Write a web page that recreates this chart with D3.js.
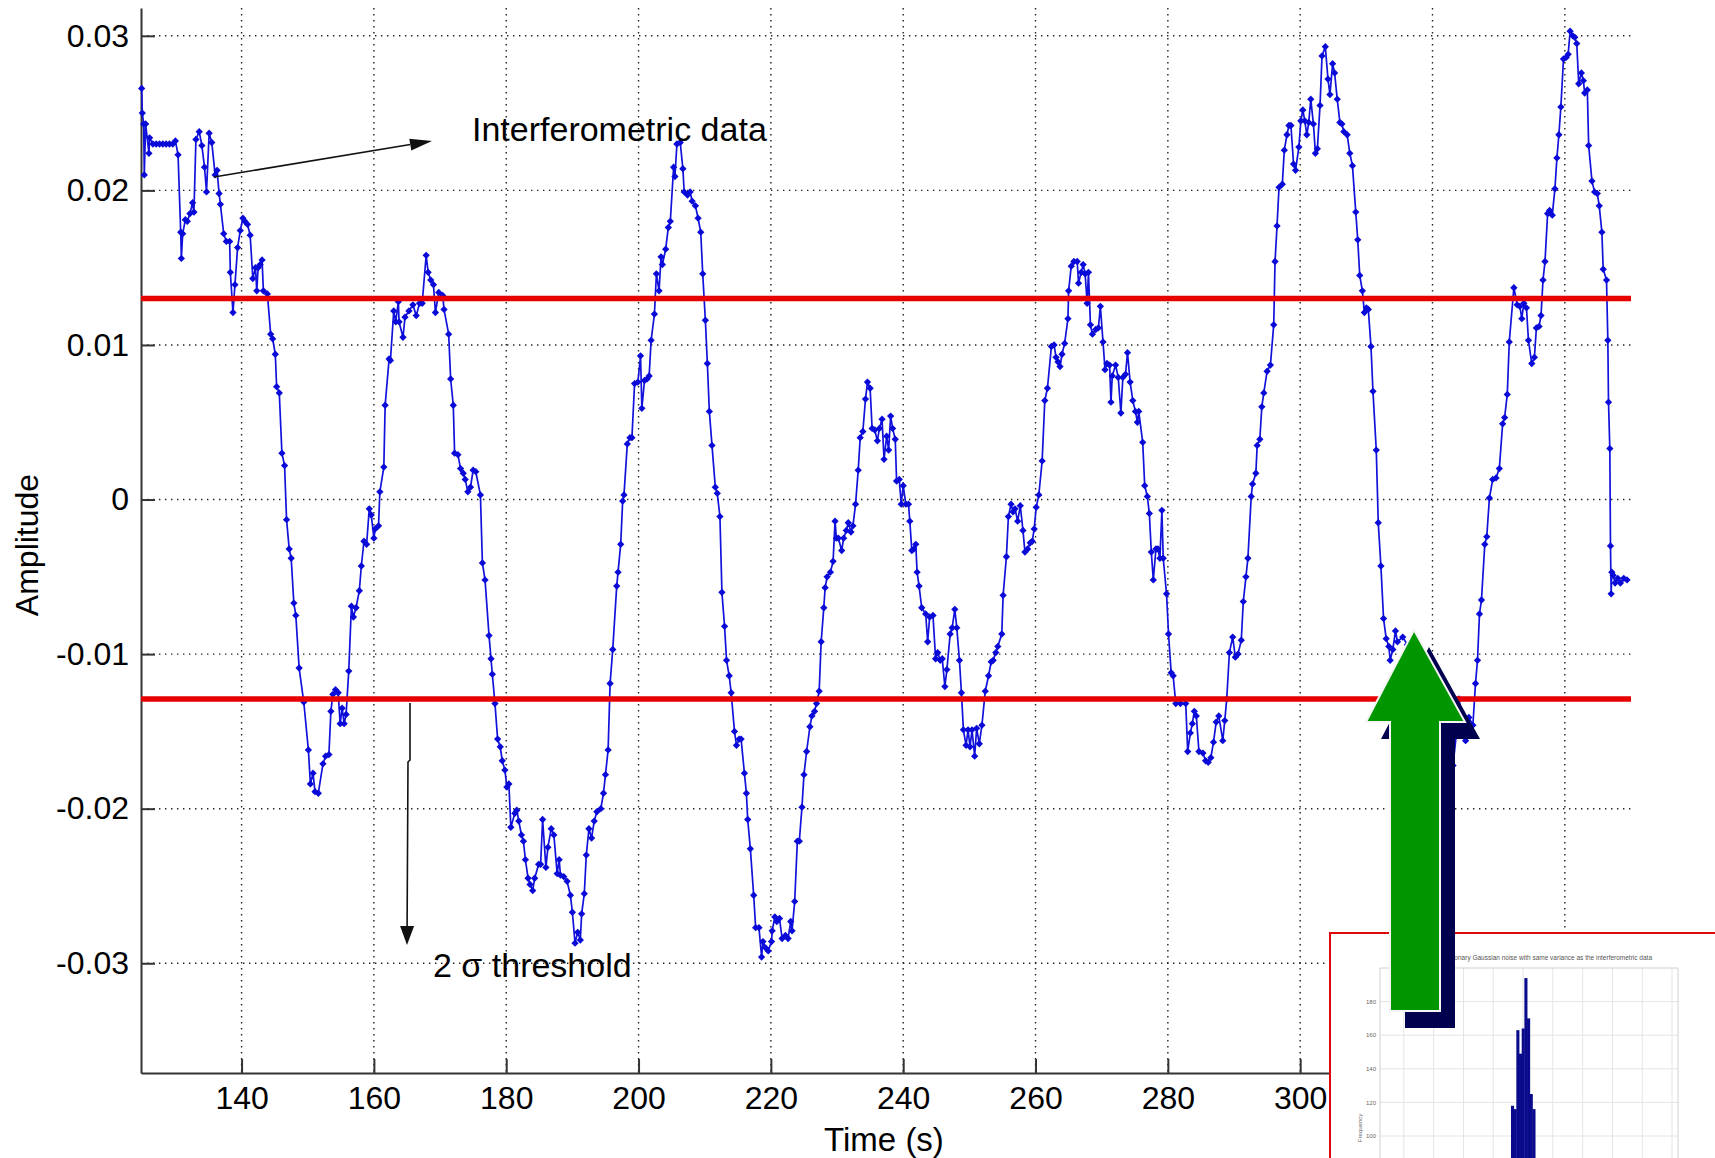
<!DOCTYPE html>
<html>
<head>
<meta charset="utf-8">
<script src="https://cdn.jsdelivr.net/npm/d3@7"></script>
<style>
  body { margin: 0; background: #fff; }
  svg { display: block; font-family: Arial, 'Liberation Sans', sans-serif; }
</style>
</head>
<body>
<svg id="main_chart" width="1715" height="1158"></svg>
<script>
// time (s), amplitude
const interferometric = [
  [124.9,0.0266],[125.0,0.025],[125.2,0.0243],[125.3,0.021],[125.5,0.0243],[126.0,0.0224],[126.1,0.0234],[126.6,0.023],
  [127.1,0.023],[127.6,0.023],[128.1,0.023],[128.6,0.023],[129.1,0.023],[129.6,0.023],[130.0,0.0232],[130.4,0.0223],
  [130.8,0.0173],[130.9,0.0156],[131.1,0.0172],[131.5,0.0181],[131.8,0.018],[132.2,0.0185],[132.6,0.0192],[132.8,0.0186],
  [133.1,0.0233],[133.6,0.0238],[134.0,0.0229],[134.4,0.0215],[134.7,0.0199],[135.1,0.0237],[135.5,0.0231],[136.0,0.021],
  [136.3,0.0213],[136.6,0.0198],[136.8,0.0191],[137.3,0.0172],[137.7,0.0167],[138.2,0.0167],[138.3,0.0147],[138.7,0.0121],
  [139.0,0.0139],[139.4,0.0163],[139.8,0.0174],[140.2,0.0182],[140.5,0.018],[140.9,0.0178],[141.3,0.0171],[141.7,0.0143],
  [142.1,0.015],[142.3,0.0135],[142.5,0.015],[142.8,0.0152],[143.1,0.0155],[143.3,0.0135],[143.9,0.0133],[144.4,0.0107],
  [144.7,0.0104],[145.1,0.0094],[145.3,0.0073],[145.7,0.0069],[146.1,0.003],[146.5,0.0022],[146.8,-0.0013],[147.2,-0.0032],
  [147.5,-0.0038],[147.9,-0.0067],[148.2,-0.0075],[148.7,-0.0109],[149.4,-0.0131],[150.1,-0.0162],[150.4,-0.0184],[150.8,-0.0177],
  [151.1,-0.0189],[151.6,-0.019],[152.3,-0.0171],[152.7,-0.0166],[153.2,-0.0165],[153.5,-0.0137],[153.8,-0.0126],[154.2,-0.0123],
  [154.6,-0.0125],[154.9,-0.0145],[155.2,-0.0135],[155.5,-0.0145],[155.8,-0.0139],[156.2,-0.0111],[156.6,-0.0069],[156.9,-0.0076],
  [157.3,-0.007],[157.8,-0.0059],[158.1,-0.0043],[158.5,-0.0027],[158.9,-0.0029],[159.3,-0.0006],[159.6,-0.001],[160.0,-0.0025],
  [160.2,-0.0019],[160.7,-0.0017],[160.9,0.0005],[161.5,0.0021],[161.7,0.0061],[162.3,0.0091],[162.5,0.009],[163.0,0.0122],
  [163.3,0.0115],[163.7,0.0128],[163.8,0.0115],[164.4,0.0105],[164.7,0.0118],[165.3,0.0122],[165.9,0.0126],[166.4,0.0119],
  [166.9,0.0127],[167.3,0.0127],[167.9,0.0158],[168.2,0.0147],[168.6,0.0142],[169.0,0.0139],[169.3,0.0121],[169.8,0.0134],
  [170.4,0.0132],[170.6,0.0123],[171.3,0.0107],[171.6,0.0078],[172.0,0.0061],[172.2,0.003],[172.7,0.0029],[173.1,0.002],
  [173.5,0.0017],[173.8,0.0013],[174.2,0.0005],[174.6,0.0008],[175.0,0.0019],[175.4,0.0018],[176.1,0.0003],[176.4,-0.0041],
  [176.8,-0.0052],[177.4,-0.0088],[177.7,-0.0103],[177.9,-0.0113],[178.3,-0.0132],[178.7,-0.0155],[179.1,-0.016],[179.4,-0.0169],
  [179.8,-0.0175],[180.1,-0.0186],[180.4,-0.0184],[180.7,-0.0212],[181.3,-0.0203],[181.6,-0.0201],[181.9,-0.0208],[182.3,-0.0217],
  [182.6,-0.0221],[182.9,-0.0233],[183.3,-0.0245],[183.6,-0.0249],[184.0,-0.0253],[184.3,-0.0245],[184.9,-0.0236],[185.2,-0.0236],
  [185.5,-0.0207],[186.0,-0.0238],[186.3,-0.0225],[186.8,-0.0213],[187.2,-0.0217],[187.7,-0.0242],[188.0,-0.0233],[188.2,-0.0243],
  [188.7,-0.0244],[189.2,-0.0247],[189.7,-0.0256],[190.0,-0.0267],[190.4,-0.0287],[190.8,-0.028],[191.2,-0.0285],[191.4,-0.0268],
  [191.8,-0.0255],[192.1,-0.023],[192.5,-0.0213],[192.9,-0.0219],[193.3,-0.0208],[193.7,-0.0202],[194.3,-0.02],[194.7,-0.019],
  [195.0,-0.0178],[195.4,-0.0162],[195.7,-0.0119],[196.1,-0.0097],[196.7,-0.0056],[196.9,-0.0047],[197.3,-0.0029],[197.6,-0.0001],
  [197.8,0.0003],[198.3,0.0036],[198.7,0.004],[199.0,0.004],[199.4,0.0075],[199.9,0.0076],[200.3,0.0093],[200.5,0.0059],
  [200.9,0.0077],[201.3,0.0078],[201.6,0.008],[201.9,0.0103],[202.4,0.012],[202.7,0.0146],[203.1,0.0135],[203.4,0.0157],
  [203.6,0.0152],[204.1,0.0162],[204.5,0.0176],[204.8,0.018],[205.3,0.0215],[205.5,0.0209],[205.8,0.023],[206.3,0.0231],
  [206.7,0.0214],[206.9,0.0199],[207.4,0.0197],[207.8,0.0199],[208.1,0.0193],[208.6,0.019],[209.0,0.0182],[209.4,0.0173],
  [209.7,0.0146],[210.1,0.0116],[210.4,0.0088],[210.7,0.0057],[211.1,0.0035],[211.6,0.0008],[211.9,0.0004],[212.3,-0.0011],
  [212.6,-0.006],[213.0,-0.0082],[213.3,-0.0104],[213.7,-0.0114],[214.0,-0.0125],[214.5,-0.015],[214.8,-0.0159],[215.2,-0.0155],
  [215.5,-0.0155],[216.0,-0.0177],[216.3,-0.019],[216.5,-0.0207],[216.9,-0.0226],[217.4,-0.0256],[217.7,-0.0277],[218.2,-0.0277],
  [218.6,-0.0296],[218.8,-0.0286],[219.2,-0.029],[219.6,-0.0292],[220.1,-0.0286],[220.2,-0.0279],[220.6,-0.027],[220.9,-0.0273],
  [221.3,-0.0271],[221.7,-0.0284],[222.2,-0.0282],[222.6,-0.0284],[223.0,-0.0273],[223.2,-0.0279],[223.6,-0.026],[224.0,-0.0221],
  [224.3,-0.0221],[224.7,-0.0199],[225.0,-0.0178],[225.4,-0.0163],[225.9,-0.0147],[226.2,-0.014],[226.6,-0.0137],[226.9,-0.0132],
  [227.3,-0.0124],[227.6,-0.0092],[228.0,-0.007],[228.2,-0.0057],[228.5,-0.005],[229.0,-0.0047],[229.4,-0.004],[229.7,-0.0014],
  [229.9,-0.0025],[230.2,-0.0025],[230.7,-0.0033],[231.0,-0.0025],[231.4,-0.002],[231.7,-0.0015],[232.1,-0.0021],[232.4,-0.0017],
  [232.8,-0.0003],[233.2,0.0019],[233.5,0.004],[233.9,0.0044],[234.3,0.0065],[234.6,0.0076],[235.0,0.0072],[235.3,0.0046],
  [235.7,0.0045],[236.1,0.0038],[236.4,0.0046],[236.8,0.0052],[237.1,0.0026],[237.5,0.0041],[237.8,0.0032],[238.1,0.0054],
  [238.4,0.0046],[238.8,0.0039],[239.0,0.0012],[239.4,0.0013],[239.7,-0.0003],[240.0,0.0009],[240.4,-0.0003],[240.8,-0.0003],
  [241.0,-0.0014],[241.3,-0.0033],[241.6,-0.0032],[241.9,-0.0029],[242.1,-0.0047],[242.4,-0.0056],[242.8,-0.007],[243.4,-0.0074],
  [243.7,-0.0092],[244.0,-0.0076],[244.5,-0.0075],[244.9,-0.0103],[245.2,-0.0099],[245.6,-0.0104],[245.9,-0.0103],[246.3,-0.0121],
  [246.6,-0.011],[247.1,-0.0087],[247.4,-0.0083],[247.8,-0.0071],[248.1,-0.0083],[248.5,-0.0104],[248.8,-0.0125],[249.1,-0.0149],
  [249.5,-0.0159],[249.8,-0.0149],[250.1,-0.016],[250.4,-0.0149],[250.8,-0.0166],[251.1,-0.0148],[251.5,-0.0158],[251.9,-0.0146],
  [252.4,-0.0124],[252.9,-0.0114],[253.3,-0.0105],[253.6,-0.0104],[254.0,-0.0099],[254.3,-0.0095],[254.9,-0.0087],[255.1,-0.0062],
  [255.6,-0.0037],[255.9,-0.0011],[256.3,-0.0003],[256.6,-0.0008],[256.9,-0.0006],[257.3,-0.0014],[257.7,-0.0004],[258.1,-0.002],
  [258.4,-0.0034],[258.8,-0.0032],[259.2,-0.0028],[259.5,-0.0027],[259.8,-0.0019],[260.1,-0.0005],[260.5,0.0003],[261.0,0.0025],
  [261.4,0.0064],[261.8,0.0072],[262.4,0.0099],[262.8,0.01],[263.1,0.0092],[263.4,0.0089],[263.7,0.0086],[264.0,0.0094],
  [264.4,0.0101],[264.9,0.0117],[265.0,0.0135],[265.4,0.0151],[265.8,0.0154],[266.3,0.0154],[266.5,0.014],[266.9,0.0147],
  [267.2,0.0152],[267.5,0.0146],[267.8,0.0127],[268.0,0.0147],[268.3,0.0113],[268.6,0.0107],[269.1,0.011],[269.5,0.0111],
  [269.8,0.0125],[270.2,0.0102],[270.5,0.0084],[270.8,0.0088],[271.2,0.0087],[271.4,0.0063],[271.6,0.008],[272.1,0.0087],
  [272.5,0.0079],[272.9,0.0056],[273.2,0.0079],[273.6,0.0081],[273.9,0.0095],[274.3,0.0076],[274.7,0.0064],[275.1,0.0057],
  [275.4,0.005],[275.6,0.0057],[276.2,0.0037],[276.5,0.0009],[276.9,0.0002],[277.2,-0.0009],[277.5,-0.0034],[277.8,-0.0052],
  [278.2,-0.0032],[278.5,-0.0032],[278.8,-0.0038],[279.1,-0.0007],[279.3,-0.0038],[279.8,-0.0061],[280.1,-0.0087],[280.5,-0.0112],
  [280.8,-0.0114],[281.2,-0.0132],[281.9,-0.0132],[282.7,-0.0132],[283.0,-0.0163],[283.4,-0.0151],[283.7,-0.0145],[284.0,-0.0137],
  [284.3,-0.014],[284.7,-0.0163],[285.3,-0.0164],[285.7,-0.0169],[286.1,-0.017],[286.5,-0.0167],[286.9,-0.0157],[287.3,-0.0144],
  [287.7,-0.014],[288.3,-0.0156],[288.6,-0.0143],[288.9,-0.0129],[289.3,-0.0099],[289.8,-0.0089],[290.2,-0.0102],[290.6,-0.01],
  [291.1,-0.0091],[291.4,-0.0066],[291.8,-0.005],[292.1,-0.0038],[292.6,0.0002],[292.8,0.001],[293.3,0.0017],[293.5,0.0035],
  [293.9,0.0039],[294.2,0.006],[294.5,0.0069],[295.0,0.0083],[295.5,0.0087],[296.0,0.0113],[296.2,0.0154],[296.5,0.0177],
  [296.8,0.0202],[297.3,0.0204],[297.6,0.0226],[298.0,0.0236],[298.3,0.0242],[298.6,0.0242],[299.0,0.0217],[299.3,0.0213],
  [299.8,0.0228],[300.1,0.0245],[300.4,0.0252],[300.7,0.0245],[301.0,0.0236],[301.3,0.0244],[301.6,0.0259],[302.0,0.0243],
  [302.3,0.0224],[302.6,0.0227],[303.0,0.0255],[303.3,0.0287],[303.8,0.0293],[304.2,0.0272],[304.5,0.0262],[304.9,0.0282],
  [305.2,0.0276],[305.6,0.0259],[306.0,0.0244],[306.3,0.0243],[306.6,0.0238],[307.1,0.0236],[307.5,0.0224],[307.9,0.0216],
  [308.4,0.0186],[308.7,0.0168],[309.0,0.0145],[309.4,0.0135],[309.7,0.0121],[310.0,0.0124],[310.3,0.0123],[310.7,0.0099],
  [311.0,0.007],[311.5,0.0032],[311.8,-0.0015],[312.2,-0.0043],[312.6,-0.0077],[313.0,-0.009],[313.4,-0.0095],[313.6,-0.0104],
  [314.0,-0.0097],[314.4,-0.0085],[314.7,-0.0092],[315.5,-0.0089],[316.2,-0.0094],[317.0,-0.0098],[317.8,-0.0104],[318.6,-0.0112],
  [319.4,-0.0121],[320.2,-0.013],[321.0,-0.0138],[321.8,-0.0149],[322.5,-0.0162],[323.1,-0.0172],[323.6,-0.0152],[324.0,-0.0129],
  [324.4,-0.0138],[325.0,-0.0156],[325.5,-0.0141],[326.1,-0.0146],[326.5,-0.0119],[326.8,-0.0104],[327.1,-0.0074],[327.4,-0.0065],
  [327.9,-0.0029],[328.2,-0.0024],[328.6,0.0001],[329.1,0.0013],[329.6,0.0014],[330.1,0.002],[330.6,0.0049],[330.9,0.0053],
  [331.3,0.0068],[331.6,0.0102],[332.3,0.0137],[332.8,0.0126],[333.2,0.0125],[333.5,0.0117],[333.8,0.0127],[334.2,0.0124],
  [334.5,0.0103],[335.0,0.0088],[335.4,0.0092],[335.7,0.0111],[336.1,0.0112],[336.4,0.0119],[336.7,0.0142],[337.0,0.0154],
  [337.4,0.0185],[337.7,0.0187],[338.1,0.0184],[338.5,0.0201],[338.8,0.0221],[339.1,0.0236],[339.4,0.0254],[339.8,0.0285],
  [340.2,0.0286],[340.5,0.0288],[340.8,0.0303],[341.2,0.03],[341.5,0.0299],[341.8,0.0295],[342.1,0.0269],[342.5,0.0276],
  [342.8,0.0271],[343.0,0.0263],[343.4,0.0265],[343.6,0.0229],[344.1,0.0206],[344.5,0.0199],[344.9,0.0198],[345.2,0.019],
  [345.6,0.0173],[345.8,0.0149],[346.3,0.0142],[346.5,0.0103],[346.6,0.0063],[346.8,0.0033],[346.9,-0.003],[347.0,-0.0061],
  [347.1,-0.0047],[347.3,-0.0049],[347.6,-0.0054],[348.0,-0.0051],[348.4,-0.0054],[348.9,-0.0051],[349.4,-0.0052]
];
const thresholds = [0.0130, -0.0129];
const xTickValues = [140, 160, 180, 200, 220, 240, 260, 280, 300, 320, 340];
const yTickValues = [-0.03, -0.02, -0.01, 0, 0.01, 0.02, 0.03];

// inset histogram (noise amplitude bins, counts)
const histBins = [-0.0036, -0.0027, -0.0018, -0.0009, 0.0, 0.0009, 0.0018, 0.0027, 0.0036];
const histCounts = [118, 116, 163, 149, 164, 194, 170, 125, 116];
const histYTicks = [100, 120, 140, 160, 180];
const histXTicks = [-0.04, -0.03, -0.02, -0.01, 0, 0.01, 0.02, 0.03, 0.04, 0.05];

(function() {
  const svg = d3.select('#main_chart');
  svg.append('rect').attr('width', 1715).attr('height', 1158).attr('fill', '#fff');

  const xScale = d3.scaleLinear().domain([124.8, 350]).range([141, 1631]);
  const yScale = d3.scaleLinear().domain([-0.0371, 0.0318]).range([1073, 8]);

  // dotted grid
  const grid = svg.append('g').attr('id', 'grid')
    .attr('stroke', '#222').attr('stroke-width', 1.4).attr('stroke-dasharray', '1.4 4.6');
  grid.selectAll('line.gx').data(xTickValues).enter().append('line').attr('class', 'gx')
    .attr('x1', d => xScale(d)).attr('x2', d => xScale(d))
    .attr('y1', yScale.range()[1]).attr('y2', yScale.range()[0]);
  grid.selectAll('line.gy').data(yTickValues).enter().append('line').attr('class', 'gy')
    .attr('y1', d => yScale(d)).attr('y2', d => yScale(d))
    .attr('x1', xScale.range()[0]).attr('x2', xScale.range()[1]);

  // axes, ticks pointing inward
  const yAxis = svg.append('g').attr('transform', 'translate(' + xScale.range()[0] + ',0)')
    .call(d3.axisLeft(yScale).tickValues(yTickValues).tickSize(-14).tickSizeOuter(0).tickPadding(12)
      .tickFormat(d => d === 0 ? '0' : String(+d.toFixed(2))));
  const xAxis = svg.append('g').attr('transform', 'translate(0,' + yScale.range()[0] + ')')
    .call(d3.axisBottom(xScale).tickValues(xTickValues).tickSize(-14).tickSizeOuter(0).tickPadding(13)
      .tickFormat(d3.format('d')));
  [xAxis, yAxis].forEach(function(ax) {
    ax.select('.domain').attr('stroke', '#333').attr('stroke-width', 2);
    ax.selectAll('.tick line').attr('stroke', '#333').attr('stroke-width', 2);
    ax.selectAll('.tick text').attr('fill', '#000').style('font-size', '32px')
      .style('font-family', "Arial, 'Liberation Sans', sans-serif");
  });

  svg.append('text').attr('transform', 'translate(27,545) rotate(-90)').attr('dy', '0.35em')
    .attr('text-anchor', 'middle').style('font-size', '32px').text('Amplitude');
  svg.append('text').attr('x', 884).attr('y', 1139).attr('dy', '0.35em')
    .attr('text-anchor', 'middle').style('font-size', '33px').text('Time (s)');

  // interferometric trace
  const line = d3.line().x(d => xScale(d[0])).y(d => yScale(d[1]));
  svg.append('path').datum(interferometric).attr('d', line)
    .attr('fill', 'none').attr('stroke', '#1212dc').attr('stroke-width', 1.7);
  const marker = d3.symbol().type(d3.symbolDiamond2).size(34);
  svg.selectAll('path.pt').data(interferometric).enter().append('path').attr('class', 'pt')
    .attr('d', marker)
    .attr('transform', d => 'translate(' + xScale(d[0]) + ',' + yScale(d[1]) + ')')
    .attr('fill', '#0a0ad8');

  // 2 sigma thresholds
  svg.selectAll('line.thr').data(thresholds).enter().append('line').attr('class', 'thr')
    .attr('x1', xScale.range()[0]).attr('x2', xScale.range()[1])
    .attr('y1', d => yScale(d)).attr('y2', d => yScale(d))
    .attr('stroke', '#e60000').attr('stroke-width', 5.5);

  // annotation arrows
  function arrow(points, headLen, headHalf) {
    const a = points[points.length - 2], b = points[points.length - 1];
    const dx = b[0] - a[0], dy = b[1] - a[1], len = Math.sqrt(dx * dx + dy * dy);
    const ux = dx / len, uy = dy / len;
    const base = [b[0] - ux * headLen, b[1] - uy * headLen];
    const shaft = points.slice(0, -1).concat([base]);
    svg.append('path').attr('d', d3.line()(shaft)).attr('fill', 'none')
      .attr('stroke', '#111').attr('stroke-width', 1.6);
    svg.append('path').attr('d', d3.line()([b,
      [base[0] - uy * headHalf, base[1] + ux * headHalf],
      [base[0] + uy * headHalf, base[1] - ux * headHalf]]) + 'Z').attr('fill', '#111');
  }
  arrow([[214, 177], [432, 141]], 22, 6);
  arrow([[410, 703], [410, 760], [408, 762], [407, 945]], 19, 7);

  svg.append('text').attr('x', 472).attr('y', 141).style('font-size', '34px').text('Interferometric data');
  svg.append('text').attr('x', 433).attr('y', 977).style('font-size', '34px').text('2 \u03c3 threshold');

  // inset: histogram of noise
  const inset = svg.append('g').attr('id', 'inset');
  inset.append('rect').attr('x', 1330).attr('y', 933).attr('width', 420).attr('height', 260)
    .attr('fill', '#fff').attr('stroke', '#dd0a0a').attr('stroke-width', 2);
  const hx = d3.scaleLinear().domain([-0.048, 0.052]).range([1380, 1678]);
  const hy = d3.scaleLinear().domain([0, 200]).range([1304, 968]);
  inset.selectAll('line.hgx').data(histXTicks).enter().append('line')
    .attr('x1', d => hx(d)).attr('x2', d => hx(d)).attr('y1', 968).attr('y2', 1158)
    .attr('stroke', '#e4e4e4').attr('stroke-width', 1);
  inset.selectAll('line.hgy').data(histYTicks).enter().append('line')
    .attr('y1', d => hy(d)).attr('y2', d => hy(d)).attr('x1', 1380).attr('x2', 1678)
    .attr('stroke', '#e4e4e4').attr('stroke-width', 1);
  inset.append('path').attr('d', 'M1380,1158V968H1678V1158').attr('fill', 'none')
    .attr('stroke', '#d0d0d0').attr('stroke-width', 1);
  const binW = hx(0.0009) - hx(0);
  inset.selectAll('rect.bar').data(histBins).enter().append('rect').attr('class', 'bar')
    .attr('x', d => hx(d) - binW / 2).attr('width', binW + 0.4)
    .attr('y', (d, i) => hy(histCounts[i])).attr('height', (d, i) => hy(0) - hy(histCounts[i]))
    .attr('fill', '#0a0a8c');
  inset.selectAll('text.hyt').data(histYTicks).enter().append('text')
    .attr('x', 1376).attr('y', d => hy(d)).attr('dy', '0.35em').attr('text-anchor', 'end')
    .style('font-size', '6px').attr('fill', '#666').text(d => d);
  inset.append('text').attr('x', 1652).attr('y', 960).attr('text-anchor', 'end')
    .style('font-size', '6.5px').attr('fill', '#555')
    .text('Histogram of stationary Gaussian noise with same variance as the interferometric data');
  inset.append('text').attr('transform', 'translate(1362,1128) rotate(-90)').attr('text-anchor', 'middle')
    .style('font-size', '6px').attr('fill', '#666').text('Frequency');

  // big green arrow with dark shadow
  const upArrow = [[1414, 630], [1465, 722], [1440, 722], [1440, 1011], [1390, 1011], [1390, 722], [1366, 722]];
  svg.append('path').attr('d', d3.line()(upArrow) + 'Z').attr('transform', 'translate(15,17)')
    .attr('fill', '#00004f');
  svg.append('path').attr('d', d3.line()(upArrow) + 'Z')
    .attr('fill', '#009600').attr('stroke', '#f4f4f4').attr('stroke-width', 2);
}());
</script>
</body>
</html>
